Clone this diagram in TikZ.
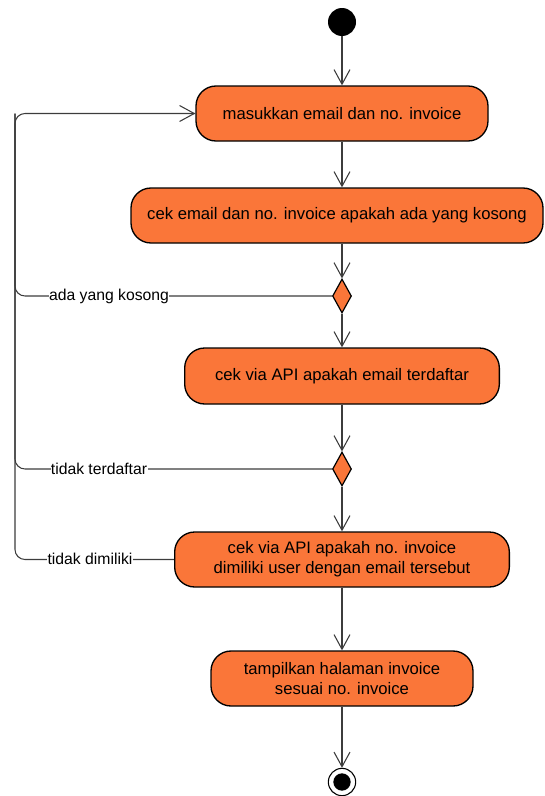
\documentclass[tikz,border=0pt]{standalone}
\usepackage{fontspec}
\setmainfont{Liberation Sans}
\usetikzlibrary{arrows.meta,shapes.geometric}
\definecolor{act}{HTML}{FA7639}
\definecolor{conn}{HTML}{3C3C3C}
\begin{document}
\begin{tikzpicture}[x=0.75pt,y=-0.75pt,
  action/.style={draw=black,line width=1pt,fill=act,rounded corners=15pt,inner sep=0pt,align=center,font=\fontsize{12.5}{15}\selectfont},
  decision/.style={draw=black,line width=0.9pt,fill=act,diamond,inner sep=0pt,minimum width=14.25pt,minimum height=25.5pt},
  flow/.style={draw=conn,line width=0.8pt,-{Straight Barb[length=11pt,width=12pt]}},
  loop/.style={draw=conn,line width=0.8pt,rounded corners=7.5pt},
  lbl/.style={fill=white,inner sep=0.3pt,font=\fontsize{11.8}{14}\selectfont}]
\useasboundingbox (0,0) rectangle (545,796);
\node[circle,fill=black,minimum size=21pt,inner sep=0pt] (start) at (342,22) {};
\node[action,minimum width=219pt,minimum height=41.25pt] (b1) at (342,113.5) {masukkan email dan no. invoice};
\node[action,minimum width=309pt,minimum height=41.25pt] (b2) at (337,215.5) {cek email dan no. invoice apakah ada yang kosong};
\node[decision] (d1) at (342,296) {};
\node[action,minimum width=236pt,minimum height=42pt] (b3) at (342,376) {cek via API apakah email terdaftar};
\node[decision] (d2) at (342,469) {};
\node[action,minimum width=251pt,minimum height=41.25pt] (b4) at (342,559.5) {cek via API apakah no. invoice\\dimiliki user dengan email tersebut};
\node[action,minimum width=196.5pt,minimum height=41.25pt] (b5) at (342,678.5) {tampilkan halaman invoice\\sesuai no. invoice};
\node[circle,draw=black,line width=0.8pt,fill=white,minimum size=20.5pt,inner sep=0pt] (end) at (342,782) {};
\node[circle,fill=black,minimum size=13pt,inner sep=0pt] (endin) at (342,782) {};
\draw[flow] (start) -- (b1);
\draw[flow] (b1) -- (b2.north -| b1.south);
\draw[flow] (b2.south -| d1.north) -- (d1);
\draw[flow] (d1) -- (b3);
\draw[flow] (b3) -- (d2);
\draw[flow] (d2) -- (b4);
\draw[flow] (b4) -- (b5);
\draw[flow] (b5) -- (end);
\coordinate (L) at (15,113.5);
\draw[loop] (b4.west) -- (15,559.5) -- (L) -- (b1.west);
\draw[loop] (d2.west) -- (15,469) -- (L);
\draw[loop] (d1.west) -- (15,296) -- (L);
\draw[flow] (L) ++(20,0) -- (b1.west);
\node[lbl] (l1) at (109,296) {ada yang kosong};
\node[lbl] (l2) at (99,469) {tidak terdaftar};
\node[lbl] (l3) at (90,558.5) {tidak dimiliki};
\end{tikzpicture}
\end{document}
